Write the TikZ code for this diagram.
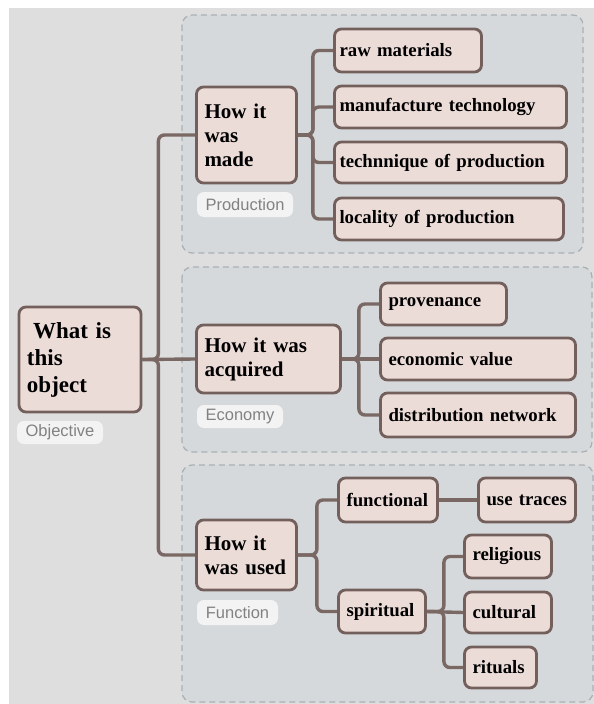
\documentclass[tikz,border=0pt]{standalone}
\usepackage{fontspec}
\setmainfont{Liberation Serif}
\newfontfamily\lsans{Liberation Sans}
\definecolor{pagebg}{HTML}{DEDEDE}
\definecolor{framefill}{HTML}{D5D9DC}
\definecolor{framedash}{HTML}{A9B0B4}
\definecolor{nodefill}{HTML}{ECDCD8}
\definecolor{nodeline}{HTML}{73605C}
\definecolor{connline}{HTML}{7A6864}
\definecolor{tagfill}{HTML}{F3F3F3}
\definecolor{tagtext}{HTML}{828282}
\pgfdeclarelayer{back}
\pgfdeclarelayer{mid}
\pgfsetlayers{back,mid,main}
\tikzset{
  box/.style={draw=nodeline, fill=nodefill, line width=2.8pt, rounded corners=7pt,
    inner xsep=8pt, inner ysep=0pt, align=left, text=black},
  leaf/.style={box, font=\fontsize{18.8}{21}\selectfont\bfseries},
  mainbox/.style={box, font=\fontsize{21}{24}\selectfont\bfseries},
  rootbox/.style={box, font=\fontsize{23}{27}\selectfont\bfseries},
  tag/.style={fill=tagfill, rounded corners=7pt, inner sep=0pt, text=tagtext,
    font=\lsans\fontsize{16.5}{18}\selectfont},
  frame/.style={fill=framefill, draw=framedash, line width=1.2pt, dash pattern=on 6pt off 4pt,
    rounded corners=10pt},
  conn/.style={draw=connline, line width=3.4pt, rounded corners=6pt}
}
\begin{document}
\begin{tikzpicture}[x=1pt,y=-1pt]
\useasboundingbox (0,0) rectangle (594,704);
\begin{pgfonlayer}{back}
  \fill[white] (0,0) rectangle (594,704);
  \fill[pagebg] (9,8) rectangle (594,704);
  \path[frame] (182,15) rectangle (583,253);
  \path[frame] (182,267) rectangle (592,452);
  \path[frame] (182,465) rectangle (593,702);
\end{pgfonlayer}

% main nodes
\node[rootbox, text width=106pt, minimum height=105pt] (root) at (80,359.5) {\hspace*{6pt}What is\\this\\object};
\node[mainbox, text width=84pt, minimum height=96pt] (made) at (246.5,135) {How it\\was\\made};
\node[mainbox, text width=128pt, minimum height=68pt] (acq) at (268.5,359) {How it was\\acquired};
\node[mainbox, text width=84pt, minimum height=70pt] (used) at (246.5,555) {How it\\was used};

% tags
\node[tag, minimum width=86pt, minimum height=23pt] (tobj) at (60,432.5) {Objective};
\node[tag, minimum width=96pt, minimum height=25pt] (tprod) at (245,204.5) {Production};
\node[tag, minimum width=86pt, minimum height=23pt] (tecon) at (240,416.5) {Economy};
\node[tag, minimum width=81pt, minimum height=25pt] (tfunc) at (237.5,612.5) {Function};

% production leaves
\node[leaf, inner xsep=5pt, text width=137pt, minimum height=43pt] (raw) at (408,50.5) {raw materials};
\node[leaf, inner xsep=5pt, text width=222pt, minimum height=42pt] (manu) at (450.5,107) {manufacture technology};
\node[leaf, inner xsep=5pt, text width=222pt, minimum height=41pt] (tech) at (450.5,162.5) {technnique of production};
\node[leaf, inner xsep=5pt, text width=219pt, minimum height=42pt] (loc) at (449,219) {locality of production};

% economy leaves
\node[leaf, text width=110pt, minimum height=42pt] (prov) at (443.5,304) {provenance};
\node[leaf, text width=179pt, minimum height=42pt] (econ) at (478,359) {economic value};
\node[leaf, text width=179pt, minimum height=44pt] (dist) at (478,415) {distribution network};

% function leaves
\node[leaf, text width=83pt, minimum height=44pt] (func) at (388,500) {functional};
\node[leaf, text width=81pt, minimum height=44pt] (usetr) at (527,500) {use traces};
\node[leaf, text width=71pt, minimum height=43pt] (spir) at (382,611.5) {spiritual};
\node[leaf, text width=71pt, minimum height=43pt] (relig) at (508,556.5) {religious};
\node[leaf, text width=71pt, minimum height=41pt] (cult) at (508,612.5) {cultural};
\node[leaf, text width=56pt, minimum height=41pt] (rit) at (500.5,667.5) {rituals};

\begin{pgfonlayer}{mid}
  \draw[conn] (root.east) -- ++(16,0) |- (made.west);
  \draw[conn] (root.east) -- (acq.west);
  \draw[conn] (root.east) -- ++(16,0) |- (used.west);
  \draw[conn] (made.east) -- ++(15,0) |- (raw.west);
  \draw[conn] (made.east) -- ++(15,0) |- (manu.west);
  \draw[conn] (made.east) -- ++(15,0) |- (tech.west);
  \draw[conn] (made.east) -- ++(15,0) |- (loc.west);
  \draw[conn] (acq.east) -- ++(17,0) |- (prov.west);
  \draw[conn] (acq.east) -- (econ.west);
  \draw[conn] (acq.east) -- ++(17,0) |- (dist.west);
  \draw[conn] (used.east) -- ++(19,0) |- (func.west);
  \draw[conn] (used.east) -- ++(19,0) |- (spir.west);
  \draw[conn] (func.east) -- (usetr.west);
  \draw[conn] (spir.east) -- ++(17,0) |- (relig.west);
  \draw[conn] (spir.east) -- (cult.west);
  \draw[conn] (spir.east) -- ++(17,0) |- (rit.west);
\end{pgfonlayer}
\end{tikzpicture}
\end{document}
